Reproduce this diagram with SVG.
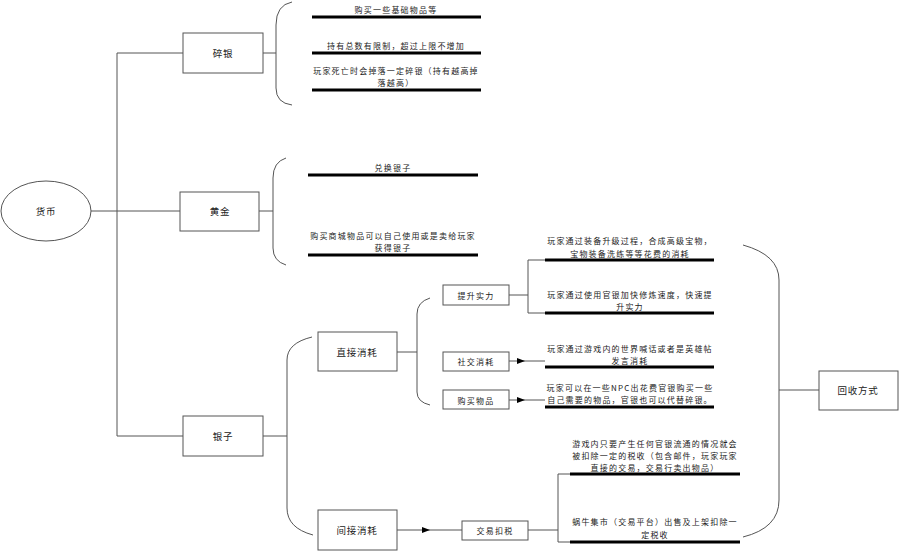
<svg xmlns="http://www.w3.org/2000/svg" width="900" height="551" viewBox="0 0 900 551">
<defs>
<style>
.bg{fill:#ffffff}
.box{fill:#ffffff;stroke:#555555;stroke-width:1}
.ln{fill:none;stroke:#555555;stroke-width:1}
.ul{fill:none;stroke:#000000;stroke-width:3}
text{font-family:"Noto Sans CJK SC","Liberation Sans",sans-serif;font-size:8px;letter-spacing:1.2px;fill:#222222;text-anchor:middle;dominant-baseline:central}
.lbl{font-size:9.5px;letter-spacing:0.8px}
</style>
<marker id="ah" viewBox="0 0 8 6" refX="4" refY="3" markerWidth="8" markerHeight="6" orient="auto" markerUnits="userSpaceOnUse">
<path d="M0,0 L8,3 L0,6 Z" fill="#000000"/>
</marker>
</defs>
<rect class="bg" x="0" y="0" width="900" height="551"/>
<g id="connectors">
<path class="ln" d="M91,211 L180,211"/>
<path class="ln" d="M183,53 L117,53 L117,436 L183,436"/>
<path class="ln" d="M263,53 L276,53"/>
<path class="ln" d="M292,2 Q276,5 276,25 L276,88 Q276,103 292,105"/>
<path class="ln" d="M259,211 L273,211"/>
<path class="ln" d="M286,158 Q273,162 273,178 L273,248 Q273,261 286,265"/>
<path class="ln" d="M263,436 L287,436"/>
<path class="ln" d="M312,337 Q287,343 287,360 L287,508 Q287,528 313,535"/>
<path class="ln" d="M397,352 L417,352"/>
<path class="ln" d="M430,298 Q417,302 417,314 L417,392 Q417,402 430,405"/>
<path class="ln" d="M509,295 L528,295"/>
<path class="ln" d="M545,260 L528,260 L528,313 L545,313"/>
<path class="ln" d="M509,361 L521,361 L545,361" marker-mid="url(#ah)"/>
<path class="ln" d="M509,400 L521,400 L545,400" marker-mid="url(#ah)"/>
<path class="ln" d="M397,530 L426,530 L462,530" marker-mid="url(#ah)"/>
<path class="ln" d="M528,530 L558,530"/>
<path class="ln" d="M570,474 L558,474 L558,542 L570,542"/>
<path class="ln" d="M743,245 Q779,255 779,280 L779,500 Q779,528 743,537"/>
<path class="ln" d="M779,390 L819,390"/>
</g>
<g id="n-huobi">
<ellipse cx="46" cy="211" rx="45" ry="30" fill="#ffffff" stroke="#555555" stroke-width="1"/>
<text class="lbl" x="46" y="211">货币</text>
</g>
<g id="n-suiyin">
<rect class="box" x="183" y="33" width="80" height="40"/>
<text class="lbl" x="223" y="53">碎银</text>
</g>
<g id="n-suiyin-items">
<text x="396" y="9">购买一些基础物品等</text>
<line class="ul" x1="312" y1="17" x2="481" y2="17"/>
<text x="396" y="45">持有总数有限制，超过上限不增加</text>
<line class="ul" x1="312" y1="53" x2="481" y2="53"/>
<text x="396" y="70">玩家死亡时会掉落一定碎银（持有越高掉</text>
<text x="396" y="82">落越高）</text>
<line class="ul" x1="312" y1="90" x2="481" y2="90"/>
</g>
<g id="n-huangjin">
<rect class="box" x="180" y="192" width="79" height="39"/>
<text class="lbl" x="220" y="211">黄金</text>
</g>
<g id="n-huangjin-items">
<text x="393" y="167">兑换银子</text>
<line class="ul" x1="308" y1="175" x2="478" y2="175"/>
<text x="393" y="235">购买商城物品可以自己使用或是卖给玩家</text>
<text x="393" y="247">获得银子</text>
<line class="ul" x1="308" y1="255" x2="478" y2="255"/>
</g>
<g id="n-yinzi">
<rect class="box" x="183" y="416" width="80" height="40"/>
<text class="lbl" x="223" y="436">银子</text>
</g>
<g id="n-zhijie">
<rect class="box" x="318" y="332" width="79" height="39"/>
<text class="lbl" x="357" y="352">直接消耗</text>
</g>
<g id="n-tisheng">
<rect class="box" x="443" y="285" width="66" height="20"/>
<text x="476" y="295">提升实力</text>
</g>
<g id="n-tisheng-items">
<text x="630" y="240">玩家通过装备升级过程，合成高级宝物，</text>
<text x="630" y="253">宝物装备洗练等等花费的消耗</text>
<line class="ul" x1="545" y1="260" x2="714" y2="260"/>
<text x="630" y="294">玩家通过使用官银加快修炼速度，快速提</text>
<text x="630" y="306">升实力</text>
<line class="ul" x1="545" y1="313" x2="714" y2="313"/>
</g>
<g id="n-shejiao">
<rect class="box" x="443" y="352" width="66" height="19"/>
<text x="476" y="361">社交消耗</text>
</g>
<g id="n-shejiao-item">
<text x="630" y="348">玩家通过游戏内的世界喊话或者是英雄帖</text>
<text x="630" y="360">发言消耗</text>
<line class="ul" x1="545" y1="367" x2="714" y2="367"/>
</g>
<g id="n-goumai">
<rect class="box" x="443" y="390" width="66" height="19"/>
<text x="476" y="400">购买物品</text>
</g>
<g id="n-goumai-item">
<text x="630" y="387">玩家可以在一些NPC出花费官银购买一些</text>
<text x="630" y="399">自己需要的物品，官银也可以代替碎银。</text>
<line class="ul" x1="545" y1="407" x2="714" y2="407"/>
</g>
<g id="n-jianjie">
<rect class="box" x="318" y="510" width="79" height="40"/>
<text class="lbl" x="357" y="530">间接消耗</text>
</g>
<g id="n-jiaoyi">
<rect class="box" x="462" y="521" width="66" height="19"/>
<text x="495" y="530">交易扣税</text>
</g>
<g id="n-jiaoyi-items">
<text x="655" y="443">游戏内只要产生任何官银流通的情况就会</text>
<text x="655" y="455">被扣除一定的税收（包含邮件，玩家玩家</text>
<text x="655" y="467">直接的交易，交易行卖出物品）</text>
<line class="ul" x1="570" y1="474" x2="740" y2="474"/>
<text x="655" y="521">蜗牛集市（交易平台）出售及上架扣除一</text>
<text x="655" y="534">定税收</text>
<line class="ul" x1="570" y1="542" x2="740" y2="542"/>
</g>
<g id="n-huishou">
<rect class="box" x="819" y="371" width="79" height="39"/>
<text class="lbl" x="858" y="390">回收方式</text>
</g>
</svg>
